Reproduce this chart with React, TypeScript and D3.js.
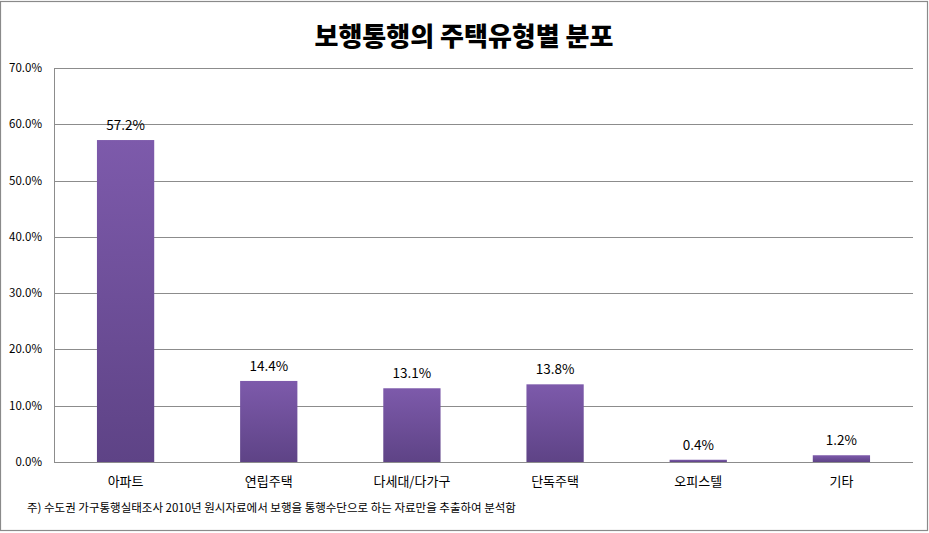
import React from "react";
import * as d3 from "d3";

const categories = ["아파트", "연립주택", "다세대/다가구", "단독주택", "오피스텔", "기타"];
const values = [57.2, 14.4, 13.1, 13.8, 0.4, 1.2];
const yTicks = [0, 10, 20, 30, 40, 50, 60, 70];
const title = "보행통행의 주택유형별 분포";
const footnote = "주) 수도권 가구통행실태조사 2010년 원시자료에서 보행을 통행수단으로 하는 자료만을 추출하여 분석함";

const W = 929;
const H = 533;
const left = 54;
const right = 913;
const top = 68;
const bottom = 462;
const font = "'Noto Sans CJK KR', 'Noto Sans', sans-serif";

export default function App() {
  const x = d3.scaleBand<string>().domain(categories).range([left, right]).paddingInner(0.6).paddingOuter(0.3);
  const y = d3.scaleLinear().domain([0, 70]).range([bottom, top]);
  const fmt = (v: number) => v.toFixed(1) + "%";
  return (
    <svg width={W} height={H} style={{ position: "absolute", left: 0, top: 0, background: "#fff" }}>
      <defs>
        <linearGradient id="barGrad" x1="0" y1="0" x2="0" y2="1">
          <stop offset="0%" stopColor="#7d5aab" />
          <stop offset="100%" stopColor="#5e4386" />
        </linearGradient>
      </defs>
      <rect x={0.5} y={1.5} width={927} height={529} fill="#fff" stroke="#8a8a8a" strokeWidth={1.2} />
      <text x={464} y={46} textAnchor="middle" fontFamily={font} fontWeight={900} fontSize={26} fill="#000">
        {title}
      </text>
      {yTicks.map((t) => (
        <g key={t}>
          <line x1={left} x2={right} y1={Math.round(y(t)) + 0.5} y2={Math.round(y(t)) + 0.5} stroke="#8c8c8c" strokeWidth={1} />
          <text x={42} y={y(t) + 4} textAnchor="end" fontFamily={font} fontSize={11.5} fill="#000">
            {fmt(t)}
          </text>
        </g>
      ))}
      <line x1={left + 0.5} x2={left + 0.5} y1={top} y2={bottom} stroke="#8c8c8c" strokeWidth={1} />
      {categories.map((c, i) => {
        const bx = x(c)!;
        const bw = x.bandwidth();
        const yt = y(values[i]);
        return (
          <g key={c}>
            <rect x={bx} y={yt} width={bw} height={bottom - yt} fill="url(#barGrad)" />
            <text x={bx + bw / 2} y={yt - 10} textAnchor="middle" fontFamily={font} fontSize={13.5} fill="#000">
              {fmt(values[i])}
            </text>
            <text x={bx + bw / 2} y={486} textAnchor="middle" fontFamily={font} fontSize={13} fill="#000">
              {c}
            </text>
          </g>
        );
      })}
      <text x={27} y={512} fontFamily={font} fontSize={11.5} fill="#000">
        {footnote}
      </text>
    </svg>
  );
}
